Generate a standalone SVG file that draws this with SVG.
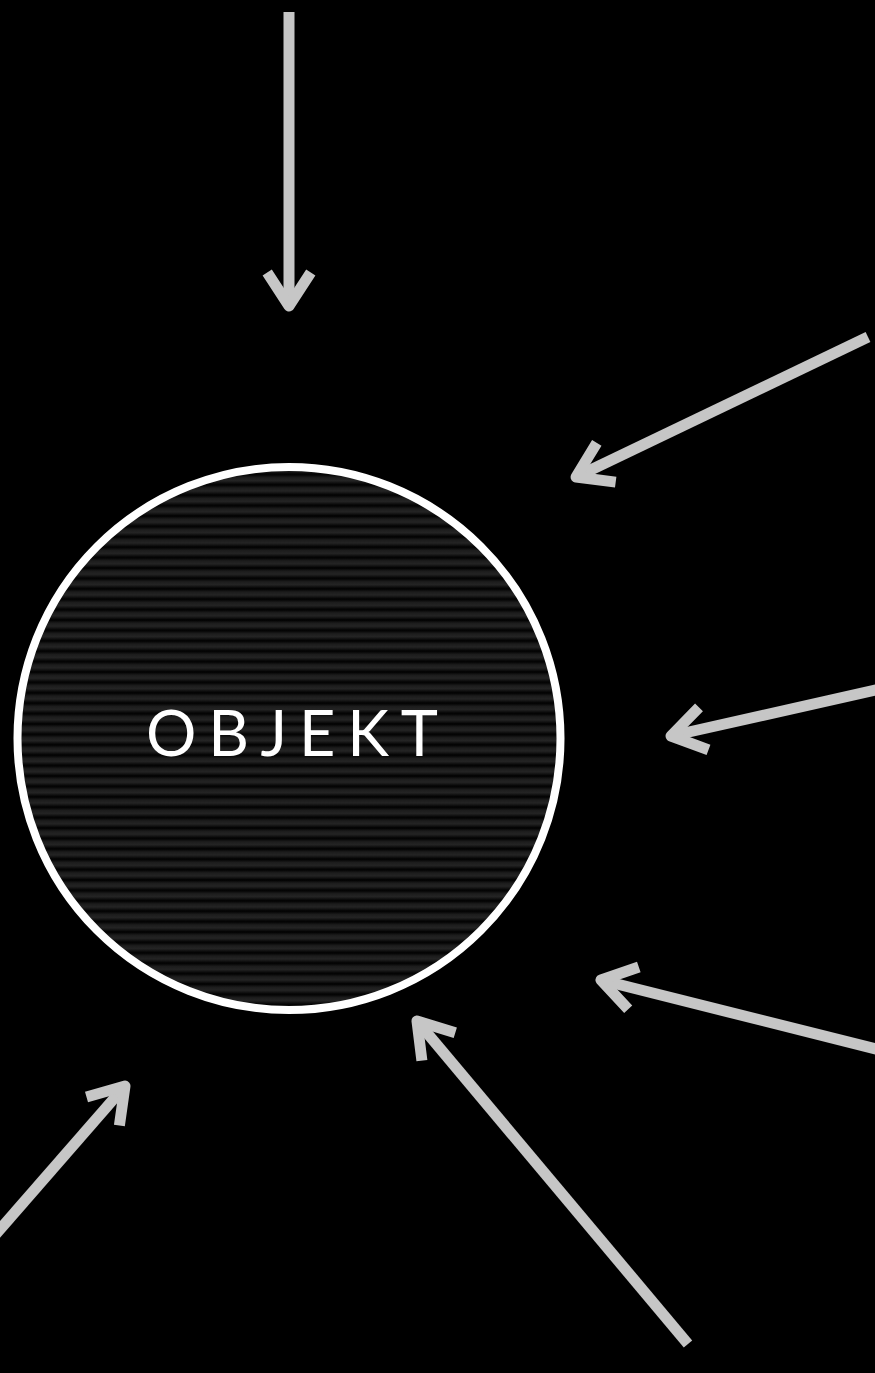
<svg xmlns="http://www.w3.org/2000/svg" width="875" height="1373" viewBox="0 0 875 1373">
<style>
.shaft{fill:none;stroke:#c6c6c6;stroke-width:11}
.head{fill:none;stroke:#c6c6c6;stroke-width:11;stroke-linejoin:round}
.label{font-family:Lato,"Open Sans","Liberation Sans",sans-serif;font-size:63px;fill:#ffffff}
</style>
<defs>
<linearGradient id="stripeGrad" x1="0" y1="0" x2="0" y2="1">
<stop offset="0" stop-color="#000"/>
<stop offset="0.3" stop-color="#1c1c1c"/>
<stop offset="0.6" stop-color="#242424"/>
<stop offset="1" stop-color="#000"/>
</linearGradient>
<pattern id="stripes" patternUnits="userSpaceOnUse" x="0" y="464" width="20" height="10.4">
<rect x="0" y="0" width="20" height="10.4" fill="url(#stripeGrad)"/>
</pattern>
</defs>
<rect x="0" y="0" width="875" height="1373" fill="#000"/>
<g id="objekt">
<circle cx="289" cy="738.5" r="271.5" fill="url(#stripes)" stroke="#ffffff" stroke-width="8"/>
<text class="label" x="146" y="756" textLength="292" lengthAdjust="spacing">OBJEKT</text>
</g>
<g id="connectors">
<line class="shaft" x1="289" y1="12" x2="289" y2="306"/>
<path class="head" d="M267.2,272.5 L289,306 L310.8,272.5"/>
<line class="shaft" x1="868" y1="337" x2="576" y2="477"/>
<path class="head" d="M596.8,442.8 L576,477 L615.7,482.1"/>
<line class="shaft" x1="880" y1="689" x2="671" y2="736"/>
<path class="head" d="M699,707.4 L671,736 L708.5,749.9"/>
<line class="shaft" x1="880" y1="1050" x2="601" y2="980"/>
<path class="head" d="M638.8,967 L601,980 L628.2,1009.3"/>
<line class="shaft" x1="688" y1="1344" x2="417" y2="1021"/>
<path class="head" d="M421.9,1060.7 L417,1021 L455.3,1032.7"/>
<line class="shaft" x1="-5" y1="1235" x2="125" y2="1086"/>
<path class="head" d="M86.5,1097 L125,1086 L119.4,1125.6"/>
</g>
</svg>
